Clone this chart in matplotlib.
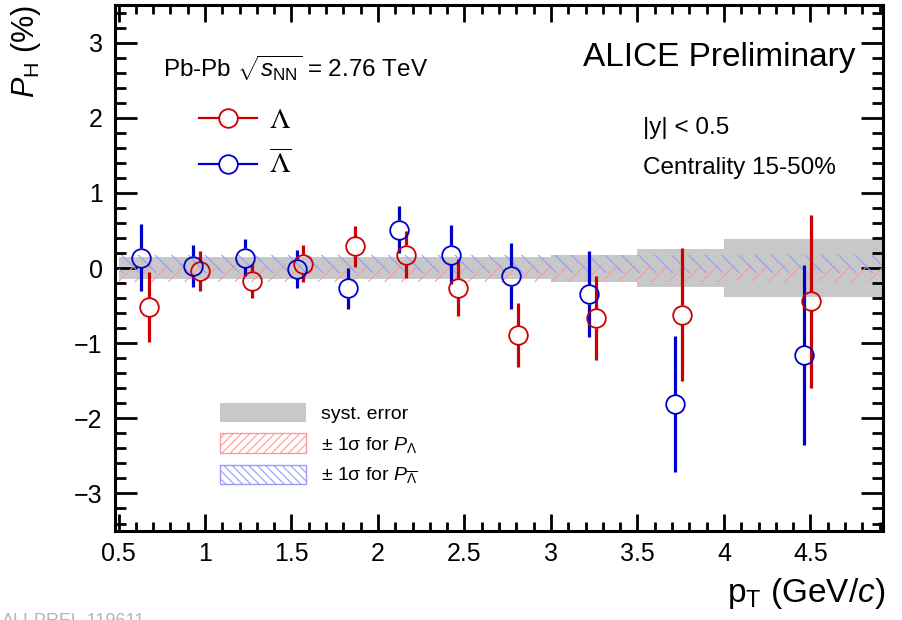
import matplotlib
matplotlib.use("Agg")
import matplotlib.pyplot as plt
from matplotlib.patches import Patch
from matplotlib.lines import Line2D
from matplotlib.ticker import MultipleLocator
import numpy as np

plt.rcParams['font.family'] = ['Liberation Sans', 'DejaVu Sans']
plt.rcParams['mathtext.fontset'] = 'custom'
plt.rcParams['mathtext.rm'] = 'Liberation Sans'
plt.rcParams['mathtext.it'] = 'Liberation Sans:italic'
plt.rcParams['mathtext.bf'] = 'Liberation Sans:bold'
plt.rcParams['mathtext.sf'] = 'Liberation Sans'
plt.rcParams['hatch.linewidth'] = 0.8

# Lambda polarization vs pT (%)
pt_lam = [0.674, 0.971, 1.269, 1.568, 1.867, 2.162, 2.464, 2.811, 3.260, 3.757, 4.505]
pol_lam = [-0.52, -0.04, -0.17, 0.06, 0.29, 0.18, -0.26, -0.89, -0.67, -0.62, -0.44]
err_lam = [0.47, 0.27, 0.23, 0.24, 0.27, 0.31, 0.38, 0.43, 0.56, 0.88, 1.15]

# anti-Lambda polarization vs pT (%)
pt_alam = [0.630, 0.932, 1.231, 1.530, 1.824, 2.123, 2.424, 2.772, 3.221, 3.718, 4.464]
pol_alam = [0.14, 0.03, 0.14, -0.01, -0.27, 0.51, 0.18, -0.11, -0.35, -1.81, -1.16]
err_alam = [0.44, 0.28, 0.24, 0.25, 0.27, 0.31, 0.39, 0.44, 0.57, 0.91, 1.20]

# systematic uncertainty per pT bin
bin_edges = [0.5, 0.8, 1.1, 1.4, 1.7, 2.0, 2.3, 2.6, 3.0, 3.5, 4.0, 5.0]
syst = [0.15, 0.15, 0.15, 0.15, 0.15, 0.15, 0.15, 0.15, 0.18, 0.25, 0.39]

# +-1 sigma bands of the pT-integrated polarization
band_lam = (-0.18, 0.04)
band_alam = (-0.07, 0.17)

RED = '#cc0000'
BLUE = '#0000cc'
GRAY = '#c8c8c8'
HATCH_RED = '#ff9a9a'
HATCH_BLUE = '#9a9aff'

fig = plt.figure(figsize=(9.03, 6.2), dpi=100)
ax = fig.add_axes([0.1274, 0.1435, 0.8505, 0.8484])
xlim = (0.48, 4.92)
ylim = (-3.5, 3.5)
ax.set_xlim(*xlim)
ax.set_ylim(*ylim)

# systematic boxes centred at zero
edges = np.array(bin_edges)
ax.bar(edges[:-1], 2 * np.array(syst), bottom=-np.array(syst), width=np.diff(edges),
       align='edge', color=GRAY, linewidth=0, zorder=1)

# hatched +-1 sigma bands
ax.fill_between([bin_edges[0], bin_edges[-1]], band_lam[0], band_lam[1],
                facecolor='none', edgecolor=HATCH_RED, hatch='//', linewidth=0, zorder=2)
ax.fill_between([bin_edges[0], bin_edges[-1]], band_alam[0], band_alam[1],
                facecolor='none', edgecolor=HATCH_BLUE, hatch='\\\\', linewidth=0, zorder=2)

# data points: open circles, error bars stop at the circle edge
ms = 13.4
px_per_unit = ax.bbox.height / (ylim[1] - ylim[0])
gap = (ms / 2) * fig.dpi / 72.0 / px_per_unit

def draw_points(x, y, e, color):
    x = np.asarray(x); y = np.asarray(y); e = np.asarray(e)
    ax.vlines(x, y + gap, y + e, color=color, linewidth=2.3, zorder=3)
    ax.vlines(x, y - e, y - gap, color=color, linewidth=2.3, zorder=3)
    ax.plot(x, y, linestyle='none', marker='o', ms=ms, mfc='none', mec=color,
            mew=1.3, zorder=4)

draw_points(pt_lam, pol_lam, err_lam, RED)
draw_points(pt_alam, pol_alam, err_alam, BLUE)

# axes styling
ax.xaxis.set_minor_locator(MultipleLocator(0.1))
ax.yaxis.set_minor_locator(MultipleLocator(0.2))
ax.set_xticks([0.5, 1, 1.5, 2, 2.5, 3, 3.5, 4, 4.5])
ax.set_xticklabels(['0.5', '1', '1.5', '2', '2.5', '3', '3.5', '4', '4.5'])
ax.set_yticks([-3, -2, -1, 0, 1, 2, 3])
ax.set_yticklabels(['\u22123', '\u22122', '\u22121', '0', '1', '2', '3'])
ax.tick_params(which='both', direction='in', top=True, right=True, width=2.0,
               labelsize=18)
ax.tick_params(axis='x', which='major', length=12, pad=8)
ax.tick_params(axis='x', which='minor', length=6.3)
ax.tick_params(axis='y', which='major', length=15.5, pad=9)
ax.tick_params(axis='y', which='minor', length=8)
for sp in ax.spines.values():
    sp.set_linewidth(2.2)

ax.set_xlabel(r'p$_{\mathrm{T}}$ (GeV/$c$)', fontsize=24, loc='right')
ax.xaxis.set_label_coords(1.003, -0.085)
ax.set_ylabel(r'$P_{\mathrm{H}}$ (%)', fontsize=22, loc='top')
ax.yaxis.set_label_coords(-0.094, 1.0)

# annotations
ax.text(0.0625, 0.88, r'Pb-Pb $\sqrt{s_{\mathrm{NN}}}$ = 2.76 TeV', transform=ax.transAxes,
        fontsize=17.5, ha='left', va='center')
ax.text(0.609, 0.901, 'ALICE Preliminary', transform=ax.transAxes,
        fontsize=24, ha='left', va='center')
ax.text(0.6875, 0.766, '|y| < 0.5', transform=ax.transAxes,
        fontsize=17.5, ha='left', va='center')
ax.text(0.6875, 0.690, 'Centrality 15-50%', transform=ax.transAxes,
        fontsize=17.5, ha='left', va='center')

# species legend
sp_handles = [Line2D([], [], color=RED, lw=1.6, marker='o', ms=ms, mfc='white', mec=RED, mew=1.3),
              Line2D([], [], color=BLUE, lw=1.6, marker='o', ms=ms, mfc='white', mec=BLUE, mew=1.3)]
leg1 = ax.legend(sp_handles, [r'$\Lambda$', r'$\overline{\Lambda}$'], loc='upper left',
                 bbox_to_anchor=(0.09, 0.835), frameon=False, fontsize=21,
                 handlelength=2.0, handletextpad=0.4, labelspacing=0.55, borderpad=0)
for t in leg1.get_texts():
    t.set_math_fontfamily('stix')
ax.add_artist(leg1)

# uncertainty legend
unc_handles = [Patch(facecolor=GRAY, edgecolor='none'),
               Patch(facecolor='none', edgecolor=HATCH_RED, hatch='////', linewidth=1),
               Patch(facecolor='none', edgecolor=HATCH_BLUE, hatch='\\\\\\\\', linewidth=1)]
unc_labels = ['syst. error', '\u00b1 1\u03c3 for $P_{\\Lambda}$',
              '\u00b1 1\u03c3 for $P_{\\overline{\\Lambda}}$']
leg2 = ax.legend(unc_handles, unc_labels, loc='upper left', bbox_to_anchor=(0.124, 0.262),
                 frameon=False, fontsize=14, handlelength=4.4, handleheight=1.15,
                 handletextpad=0.8, labelspacing=0.52, borderpad=0)

fig.text(0.002, 0.011, 'ALI-PREL-119611', color='#b4b4b4', fontsize=13, ha='left', va='top')

fig.savefig('out.png', dpi=100)
